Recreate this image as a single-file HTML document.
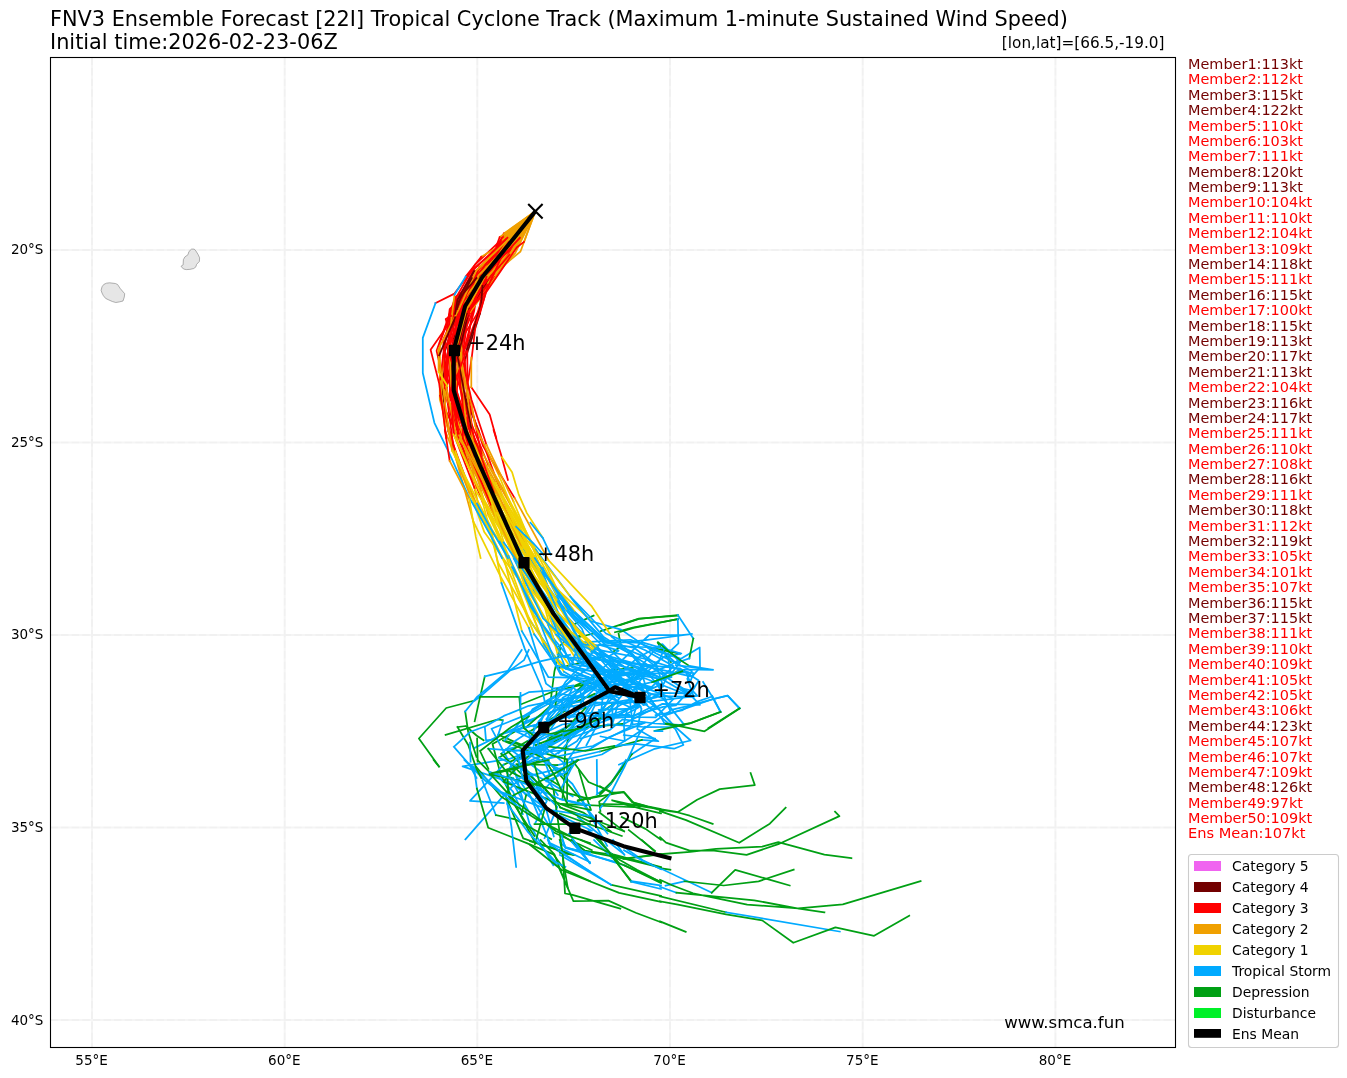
<!DOCTYPE html>
<html><head><meta charset="utf-8"><title>FNV3 Ensemble Forecast</title>
<style>html,body{margin:0;padding:0;background:#fff}svg{display:block}text{font-family:"DejaVu Sans","Liberation Sans",sans-serif;fill:#000}.m{font-size:14.45px}.t{fill:none;stroke-width:1.75;stroke-linejoin:round;stroke-linecap:square}</style></head><body>
<svg width="1347" height="1078" viewBox="0 0 1347 1078">
<rect width="1347" height="1078" fill="#fff"/>
<text x="50" y="26" font-size="20.83">FNV3 Ensemble Forecast [22I] Tropical Cyclone Track (Maximum 1-minute Sustained Wind Speed)</text>
<text x="50" y="48.7" font-size="20.83">Initial time:2026-02-23-06Z</text>
<text x="1164.5" y="47.5" font-size="15.28" text-anchor="end">[lon,lat]=[66.5,-19.0]</text>
<path d="M92.0 57.5V1047.5M284.7 57.5V1047.5M477.3 57.5V1047.5M670.0 57.5V1047.5M862.7 57.5V1047.5M1055.4 57.5V1047.5M50.5 249.9H1175.5M50.5 442.4H1175.5M50.5 635.0H1175.5M50.5 827.5H1175.5M50.5 1020.0H1175.5" stroke="#808080" stroke-opacity="0.08" stroke-width="2" fill="none"/>
<path d="M92.0 57.5V1047.5M284.7 57.5V1047.5M477.3 57.5V1047.5M670.0 57.5V1047.5M862.7 57.5V1047.5M1055.4 57.5V1047.5M50.5 249.9H1175.5M50.5 442.4H1175.5M50.5 635.0H1175.5M50.5 827.5H1175.5M50.5 1020.0H1175.5" stroke="#808080" stroke-opacity="0.03" stroke-width="2" stroke-dasharray="7.4 3.2" fill="none"/>
<clipPath id="c"><rect x="50.5" y="57.5" width="1125.0" height="990.0"/></clipPath>
<g clip-path="url(#c)">
<path d="M101.1 290.3L102.0 286.8L103.8 284.4L106.5 283.2L109.6 282.8L115.4 283.5L117.6 284.5L120.3 288.6L124.7 293.7L124.3 297.0L123.0 301.0L119.4 301.9L115.8 302.5L112.3 301.5L108.7 299.9L105.6 298.4L103.4 295.7L102.0 293.0ZM191.6 249.1L194.2 249.1L196.0 251.1L198.2 254.7L199.6 257.8L199.4 261.4L196.5 264.5L196.0 266.7L193.8 268.5L189.8 269.4L186.2 269.6L183.5 269.0L181.0 266.3L183.1 264.9L183.4 259.6L184.9 256.9L188.0 254.7L188.9 251.6Z" fill="#e6e6e6" stroke="#808080" stroke-width="0.6" stroke-linejoin="round"/>
<path class="t" stroke="#00a014" d="M572.3 625.1L593.6 615.6M579.4 637.0L593.6 633.5M559.2 646.5L565.1 640.6L579.4 635.8M549.7 708.0L554.4 671.5L560.4 647.7M559.2 667.9L584.1 662.0L603.1 657.2M572.3 686.9L610.3 670.3L632.8 667.9M657.8 643.0L670.9 662.0M650.7 647.7L680.0 653.6M654.2 682.2L680.0 670.3M520.0 704.7L555.6 690.5L596.0 682.2M600.8 631.1L638.8 618.6L678.0 615.6M615.0 632.3L632.8 627.5L678.0 619.2M613.8 651.3L621.0 646.5L618.6 633.5"/>
<path class="t" stroke="#f0a000" d="M535.4 211.3L511.3 240.8"/>
<path class="t" stroke="#ff0000" d="M511.3 240.8L477.1 276.3L453.4 307.6L448.8 356.9L452.7 399.1L465.4 447.7L496.5 520.9"/>
<path class="t" stroke="#f0d200" d="M496.5 520.9L524.5 576.9L567.0 641.4"/>
<path class="t" stroke="#00aaff" d="M567.0 641.4L587.4 654.7L598.6 683.1L618.5 702.1L612.5 724.0L612.4 704.8"/>
<path class="t" stroke="#00a014" d="M612.4 704.8L577.9 728.8L552.9 742.2"/>
<path class="t" stroke="#00aaff" d="M552.9 742.2L510.4 758.6L462.6 766.4L509.5 782.2L548.6 810.2L591.8 830.7"/>
<path class="t" stroke="#f0a000" d="M535.4 211.3L505.4 236.1"/>
<path class="t" stroke="#ff0000" d="M505.4 236.1L475.0 264.6L456.0 297.7L449.7 342.6"/>
<path class="t" stroke="#730000" d="M449.7 342.6L441.6 385.8L448.5 431.6"/>
<path class="t" stroke="#ff0000" d="M448.5 431.6L476.0 507.2"/>
<path class="t" stroke="#f0d200" d="M476.0 507.2L504.8 561.8L521.9 631.1"/>
<path class="t" stroke="#00aaff" d="M521.9 631.1L548.4 677.2L579.1 677.9L592.7 679.9L588.4 676.9L574.9 674.8L560.8 692.2L532.5 709.2L522.1 727.6"/>
<path class="t" stroke="#00a014" d="M522.1 727.6L492.5 744.1L500.7 774.4L519.2 812.5L534.7 842.0"/>
<path class="t" stroke="#f0a000" d="M535.4 211.3L505.5 248.0"/>
<path class="t" stroke="#ff0000" d="M505.5 248.0L482.2 286.4L460.0 303.8L450.9 356.6L452.7 401.4L475.7 452.8"/>
<path class="t" stroke="#f0a000" d="M475.7 452.8L508.2 531.0"/>
<path class="t" stroke="#f0d200" d="M508.2 531.0L534.0 586.7L560.8 634.8L577.7 661.9"/>
<path class="t" stroke="#00aaff" d="M577.7 661.9L610.5 678.4L663.1 698.4L684.5 725.1L654.8 723.5L622.6 719.3L609.9 729.8L580.8 738.5"/>
<path class="t" stroke="#f0a000" d="M535.4 211.3L505.2 244.8L482.5 277.4"/>
<path class="t" stroke="#ff0000" d="M482.5 277.4L464.7 308.9"/>
<path class="t" stroke="#730000" d="M464.7 308.9L458.4 353.7L460.5 385.5L478.7 430.8"/>
<path class="t" stroke="#ff0000" d="M478.7 430.8L505.9 506.3"/>
<path class="t" stroke="#f0a000" d="M505.9 506.3L530.3 553.3"/>
<path class="t" stroke="#f0d200" d="M530.3 553.3L575.4 612.4"/>
<path class="t" stroke="#00aaff" d="M575.4 612.4L605.9 641.0L630.5 653.7L646.4 672.7L616.4 675.1L602.9 694.2L600.7 718.3L586.4 745.2"/>
<path class="t" stroke="#f0a000" d="M535.4 211.3L507.3 243.5L485.0 287.2"/>
<path class="t" stroke="#ff0000" d="M485.0 287.2L472.3 309.0L449.9 355.9L458.0 397.3L468.5 451.4"/>
<path class="t" stroke="#f0d200" d="M468.5 451.4L499.5 518.5L544.5 584.5"/>
<path class="t" stroke="#00aaff" d="M544.5 584.5L581.9 628.7L591.0 652.0L645.6 669.4L686.6 693.4L675.9 705.3L663.2 706.8L633.7 715.7L595.7 716.1L576.9 741.3L548.6 758.5"/>
<path class="t" stroke="#f0a000" d="M535.4 211.3L503.8 235.3L480.7 274.6L456.2 298.9"/>
<path class="t" stroke="#ff0000" d="M456.2 298.9L439.9 342.4"/>
<path class="t" stroke="#f0a000" d="M439.9 342.4L439.8 399.2L451.5 442.2L473.3 521.3"/>
<path class="t" stroke="#f0d200" d="M473.3 521.3L500.5 576.4L528.9 627.8"/>
<path class="t" stroke="#00aaff" d="M528.9 627.8L546.0 683.6L552.8 688.5L573.7 685.4L567.2 698.8L566.5 700.0L579.7 713.3"/>
<path class="t" stroke="#00a014" d="M579.7 713.3L570.0 732.0L565.4 749.5L563.9 771.1"/>
<path class="t" stroke="#f0a000" d="M535.4 211.3L501.9 240.7"/>
<path class="t" stroke="#ff0000" d="M501.9 240.7L474.6 275.3L455.1 308.3L451.2 356.6L449.9 394.4L463.6 441.3L497.3 515.8"/>
<path class="t" stroke="#f0d200" d="M497.3 515.8L529.1 577.6L564.5 620.2L597.5 647.2"/>
<path class="t" stroke="#00aaff" d="M597.5 647.2L622.4 671.6L644.4 691.9L639.8 682.7L632.5 691.9L601.8 699.2L560.3 694.0L524.4 715.6L491.5 728.7L515.6 774.0L529.6 824.1L553.3 865.2"/>
<path class="t" stroke="#f0a000" d="M535.4 211.3L513.1 242.0"/>
<path class="t" stroke="#ff0000" d="M513.1 242.0L480.6 282.5L470.3 295.5"/>
<path class="t" stroke="#730000" d="M470.3 295.5L453.5 340.2"/>
<path class="t" stroke="#ff0000" d="M453.5 340.2L451.6 380.3L470.3 428.5"/>
<path class="t" stroke="#f0a000" d="M470.3 428.5L494.9 488.7L523.1 543.2"/>
<path class="t" stroke="#f0d200" d="M523.1 543.2L549.4 597.1"/>
<path class="t" stroke="#00aaff" d="M549.4 597.1L573.8 642.7L630.5 639.8L680.3 658.6L654.2 650.5L626.7 684.0L593.3 717.3L557.4 747.1L512.2 769.8L536.7 805.7L553.2 832.2"/>
<path class="t" stroke="#00a014" d="M553.2 832.2L591.8 850.2"/>
<path class="t" stroke="#f0a000" d="M535.4 211.3L513.8 246.6L488.7 281.7"/>
<path class="t" stroke="#ff0000" d="M488.7 281.7L479.9 313.7"/>
<path class="t" stroke="#730000" d="M479.9 313.7L464.9 359.9"/>
<path class="t" stroke="#ff0000" d="M464.9 359.9L463.0 403.1L488.3 465.2"/>
<path class="t" stroke="#f0a000" d="M488.3 465.2L515.4 513.9"/>
<path class="t" stroke="#f0d200" d="M515.4 513.9L555.0 587.1L591.9 621.5"/>
<path class="t" stroke="#00aaff" d="M591.9 621.5L621.1 629.6L655.7 653.2L692.0 671.0L687.3 678.8L693.8 696.9L660.8 696.1L624.2 703.7L593.6 702.3L558.2 709.0"/>
<path class="t" stroke="#f0a000" d="M535.4 211.3L507.7 237.8"/>
<path class="t" stroke="#ff0000" d="M507.7 237.8L476.7 281.1L455.5 296.9L436.6 350.7L446.7 395.4L453.6 448.3"/>
<path class="t" stroke="#f0a000" d="M453.6 448.3L478.7 509.6"/>
<path class="t" stroke="#f0d200" d="M478.7 509.6L510.4 560.8L544.8 627.5"/>
<path class="t" stroke="#00aaff" d="M544.8 627.5L574.3 664.4L626.1 673.1L665.9 679.6L656.2 697.5L648.6 698.9L614.8 716.6L579.0 721.1L534.7 742.6L506.0 749.5"/>
<path class="t" stroke="#00a014" d="M506.0 749.5L530.4 773.8"/>
<path class="t" stroke="#00aaff" d="M530.4 773.8L549.8 800.6"/>
<path class="t" stroke="#f0a000" d="M535.4 211.3L515.0 244.4"/>
<path class="t" stroke="#ff0000" d="M515.0 244.4L482.5 290.3L468.5 313.8L461.4 362.8L451.4 398.2L474.9 456.8"/>
<path class="t" stroke="#f0a000" d="M474.9 456.8L501.1 495.7"/>
<path class="t" stroke="#f0d200" d="M501.1 495.7L536.1 560.3"/>
<path class="t" stroke="#00aaff" d="M536.1 560.3L576.9 619.5L604.7 641.8L643.9 642.9L681.3 653.5L667.8 656.6L671.5 677.2L642.7 684.3L602.9 695.4L565.0 699.0L533.4 719.6L507.3 731.8L474.4 748.0"/>
<path class="t" stroke="#f0a000" d="M535.4 211.3L505.1 245.8L488.5 281.2L467.6 307.8"/>
<path class="t" stroke="#ff0000" d="M467.6 307.8L462.2 346.4L455.7 392.3"/>
<path class="t" stroke="#f0a000" d="M455.7 392.3L470.6 445.7"/>
<path class="t" stroke="#f0d200" d="M470.6 445.7L501.0 510.5L541.2 567.9"/>
<path class="t" stroke="#00aaff" d="M541.2 567.9L558.9 616.8L586.4 655.5L614.2 683.2L638.5 707.4L625.4 714.5L615.0 717.1L574.7 732.3L536.4 753.7L519.4 759.4"/>
<path class="t" stroke="#f0a000" d="M535.4 211.3L507.9 246.2L479.9 281.9"/>
<path class="t" stroke="#ff0000" d="M479.9 281.9L464.1 305.9L459.7 357.0L460.1 387.0"/>
<path class="t" stroke="#f0a000" d="M460.1 387.0L468.5 438.4L500.8 512.9"/>
<path class="t" stroke="#f0d200" d="M500.8 512.9L534.0 560.0L563.1 626.9L591.8 651.4"/>
<path class="t" stroke="#00aaff" d="M591.8 651.4L641.3 665.4L692.0 676.6L700.0 667.5L699.7 647.5L670.5 665.1L632.3 679.6L594.5 694.0"/>
<path class="t" stroke="#00a014" d="M594.5 694.0L558.7 709.4"/>
<path class="t" stroke="#00aaff" d="M558.7 709.4L522.2 722.8L540.4 754.0"/>
<path class="t" stroke="#f0a000" d="M535.4 211.3L515.2 253.2L487.1 284.6"/>
<path class="t" stroke="#ff0000" d="M487.1 284.6L476.9 314.5L471.7 357.8L466.1 393.8L482.9 445.8L514.7 498.1"/>
<path class="t" stroke="#f0a000" d="M514.7 498.1L548.6 560.3"/>
<path class="t" stroke="#f0d200" d="M548.6 560.3L591.3 605.8L611.7 636.6"/>
<path class="t" stroke="#00aaff" d="M611.7 636.6L633.2 654.7L656.7 684.0L663.2 694.1L651.9 694.0L618.8 715.0L587.2 720.7L556.1 736.7L537.1 760.0L495.2 773.7L513.0 791.6L522.8 814.1"/>
<path class="t" stroke="#f0a000" d="M535.4 211.3L510.8 246.8L479.4 284.4"/>
<path class="t" stroke="#ff0000" d="M479.4 284.4L469.0 311.2L459.5 353.1L456.8 391.3L477.5 455.7"/>
<path class="t" stroke="#f0a000" d="M477.5 455.7L502.5 497.1"/>
<path class="t" stroke="#f0d200" d="M502.5 497.1L545.3 564.1L567.1 610.5"/>
<path class="t" stroke="#00aaff" d="M567.1 610.5L601.1 644.5L645.4 640.2L692.0 634.0L681.2 635.1L649.3 635.0L611.2 670.2L584.4 713.7L539.1 748.4"/>
<path class="t" stroke="#00a014" d="M539.1 748.4L503.5 764.8"/>
<path class="t" stroke="#00aaff" d="M503.5 764.8L470.0 800.8L503.7 803.0"/>
<path class="t" stroke="#f0a000" d="M535.4 211.3L506.1 246.0"/>
<path class="t" stroke="#ff0000" d="M506.1 246.0L473.6 272.4L459.5 306.6"/>
<path class="t" stroke="#730000" d="M459.5 306.6L442.9 357.3"/>
<path class="t" stroke="#ff0000" d="M442.9 357.3L447.5 402.0L468.3 447.0"/>
<path class="t" stroke="#f0a000" d="M468.3 447.0L488.5 515.7"/>
<path class="t" stroke="#f0d200" d="M488.5 515.7L522.8 587.9L544.2 646.1L568.1 669.0"/>
<path class="t" stroke="#00aaff" d="M568.1 669.0L609.2 672.1L638.8 673.3L612.5 676.9L584.8 690.4L579.0 709.4L569.1 718.3"/>
<path class="t" stroke="#f0a000" d="M535.4 211.3L509.4 239.1L483.2 274.3"/>
<path class="t" stroke="#ff0000" d="M483.2 274.3L449.7 309.2L443.4 357.2"/>
<path class="t" stroke="#f0a000" d="M443.4 357.2L440.0 395.5"/>
<path class="t" stroke="#ff0000" d="M440.0 395.5L455.3 451.2"/>
<path class="t" stroke="#f0d200" d="M455.3 451.2L484.3 532.1L517.7 578.3L543.9 643.5"/>
<path class="t" stroke="#00aaff" d="M543.9 643.5L560.7 674.6L600.5 685.0L636.5 684.1L637.5 702.8L630.2 727.1L621.7 731.3L592.8 746.0L565.3 750.5L547.3 751.4L524.0 745.7"/>
<path class="t" stroke="#00a014" d="M524.0 745.7L502.8 740.4L546.2 758.9L582.8 801.7"/>
<path class="t" stroke="#00aaff" d="M582.8 801.7L607.2 845.9"/>
<path class="t" stroke="#f0a000" d="M535.4 211.3L513.4 241.4"/>
<path class="t" stroke="#ff0000" d="M513.4 241.4L485.3 279.7L471.2 308.3"/>
<path class="t" stroke="#730000" d="M471.2 308.3L455.2 348.7"/>
<path class="t" stroke="#ff0000" d="M455.2 348.7L462.2 400.3L470.2 449.6"/>
<path class="t" stroke="#f0a000" d="M470.2 449.6L502.7 513.1"/>
<path class="t" stroke="#f0d200" d="M502.7 513.1L542.7 567.9"/>
<path class="t" stroke="#00aaff" d="M542.7 567.9L567.3 616.7L595.7 648.5L639.0 676.0L692.0 696.7L680.7 688.0L692.7 690.8L697.4 695.9L649.3 701.6L597.7 702.9L544.0 722.5L498.5 734.9"/>
<path class="t" stroke="#00a014" d="M498.5 734.9L535.5 750.6"/>
<path class="t" stroke="#00aaff" d="M535.5 750.6L572.5 784.0L595.1 821.4"/>
<path class="t" stroke="#f0a000" d="M535.4 211.3L516.5 245.5L486.3 281.8"/>
<path class="t" stroke="#ff0000" d="M486.3 281.8L478.9 311.3L463.9 351.8L467.7 394.4L473.4 436.9"/>
<path class="t" stroke="#f0a000" d="M473.4 436.9L508.2 498.1"/>
<path class="t" stroke="#f0d200" d="M508.2 498.1L535.5 549.5"/>
<path class="t" stroke="#00aaff" d="M535.5 549.5L574.3 601.9L603.6 637.1L651.5 667.3L690.8 693.7L662.4 692.9L627.0 709.0L598.1 719.8L559.7 735.5L523.2 756.1L531.5 789.1L544.4 810.0"/>
<path class="t" stroke="#00a014" d="M544.4 810.0L534.9 844.2"/>
<path class="t" stroke="#f0a000" d="M535.4 211.3L515.4 239.1L482.4 279.4"/>
<path class="t" stroke="#ff0000" d="M482.4 279.4L473.6 309.5L451.2 363.3L449.5 396.1L470.3 458.3L497.8 513.8"/>
<path class="t" stroke="#f0d200" d="M497.8 513.8L525.9 587.9L559.8 640.9L582.9 658.0"/>
<path class="t" stroke="#00aaff" d="M582.9 658.0L602.8 670.7L619.9 678.9L613.1 679.5L595.7 671.3L585.7 685.3L562.5 697.8L560.5 717.1"/>
<path class="t" stroke="#00a014" d="M560.5 717.1L533.1 740.2"/>
<path class="t" stroke="#00aaff" d="M533.1 740.2L528.3 744.9"/>
<path class="t" stroke="#f0a000" d="M535.4 211.3L503.6 237.5"/>
<path class="t" stroke="#ff0000" d="M503.6 237.5L473.8 278.9L453.9 311.2L446.1 363.2L444.7 408.1L468.9 460.9"/>
<path class="t" stroke="#f0a000" d="M468.9 460.9L497.6 520.8"/>
<path class="t" stroke="#f0d200" d="M497.6 520.8L533.9 590.1"/>
<path class="t" stroke="#00aaff" d="M533.9 590.1L574.0 651.0L584.7 656.7L596.0 672.3L602.3 680.5L596.3 685.7L580.4 696.1L549.3 703.3L523.9 717.3L504.7 740.6"/>
<path class="t" stroke="#f0a000" d="M535.4 211.3L509.8 248.3"/>
<path class="t" stroke="#ff0000" d="M509.8 248.3L474.7 281.0L461.1 307.8"/>
<path class="t" stroke="#f0a000" d="M461.1 307.8L454.2 356.2L470.2 399.9"/>
<path class="t" stroke="#ff0000" d="M470.2 399.9L482.2 457.4"/>
<path class="t" stroke="#f0a000" d="M482.2 457.4L508.6 529.4"/>
<path class="t" stroke="#f0d200" d="M508.6 529.4L534.4 578.4"/>
<path class="t" stroke="#00aaff" d="M534.4 578.4L571.6 641.5L593.0 650.5L606.9 666.8L629.0 687.6L630.1 701.4L632.6 724.5L645.1 722.6L609.4 737.0L588.9 749.7L544.1 759.4"/>
<path class="t" stroke="#00a014" d="M544.1 759.4L519.1 767.8L489.7 774.7L512.7 777.9"/>
<path class="t" stroke="#00aaff" d="M512.7 777.9L526.1 795.2"/>
<path class="t" stroke="#00a014" d="M526.1 795.2L521.6 813.5"/>
<path class="t" stroke="#f0a000" d="M535.4 211.3L513.5 245.4"/>
<path class="t" stroke="#ff0000" d="M513.5 245.4L481.9 273.0"/>
<path class="t" stroke="#730000" d="M481.9 273.0L466.7 309.9L448.6 355.0"/>
<path class="t" stroke="#ff0000" d="M448.6 355.0L453.5 385.6L460.6 437.3"/>
<path class="t" stroke="#f0a000" d="M460.6 437.3L489.4 502.3"/>
<path class="t" stroke="#f0d200" d="M489.4 502.3L514.1 549.9L559.9 608.6L589.9 643.3"/>
<path class="t" stroke="#00aaff" d="M589.9 643.3L625.8 668.2L656.5 678.1L670.3 711.0L632.2 736.6L601.8 754.5L557.3 765.2"/>
<path class="t" stroke="#00a014" d="M557.3 765.2L516.2 764.1L532.3 777.6L554.6 798.4"/>
<path class="t" stroke="#f0a000" d="M535.4 211.3L511.9 244.8"/>
<path class="t" stroke="#ff0000" d="M511.9 244.8L483.7 275.0L479.4 310.1L454.3 350.7L449.9 388.3L477.0 444.3L493.8 502.6"/>
<path class="t" stroke="#f0d200" d="M493.8 502.6L511.4 552.6L548.2 625.0"/>
<path class="t" stroke="#00aaff" d="M548.2 625.0L566.0 669.0L571.8 664.1L576.0 652.1L589.4 667.3L569.0 682.6L556.8 689.4"/>
<path class="t" stroke="#00a014" d="M556.8 689.4L555.3 707.5"/>
<path class="t" stroke="#00aaff" d="M555.3 707.5L546.3 719.2"/>
<path class="t" stroke="#f0a000" d="M535.4 211.3L520.0 241.6L485.2 279.1"/>
<path class="t" stroke="#ff0000" d="M485.2 279.1L467.5 305.5L455.9 340.1L454.1 392.0"/>
<path class="t" stroke="#f0a000" d="M454.1 392.0L466.6 441.0L476.3 487.4"/>
<path class="t" stroke="#f0d200" d="M476.3 487.4L516.6 552.5L544.6 606.8L557.7 654.6"/>
<path class="t" stroke="#00aaff" d="M557.7 654.6L590.8 664.5L607.4 675.7L614.8 667.9L607.8 663.8L583.0 684.7"/>
<path class="t" stroke="#00a014" d="M583.0 684.7L577.1 691.5"/>
<path class="t" stroke="#00aaff" d="M577.1 691.5L564.9 710.9"/>
<path class="t" stroke="#00a014" d="M564.9 710.9L529.9 731.3"/>
<path class="t" stroke="#00aaff" d="M529.9 731.3L515.8 740.5L501.3 753.8"/>
<path class="t" stroke="#00a014" d="M501.3 753.8L533.9 786.4"/>
<path class="t" stroke="#f0a000" d="M535.4 211.3L507.0 239.5"/>
<path class="t" stroke="#ff0000" d="M507.0 239.5L490.8 265.4L457.1 295.9L444.9 340.4L440.1 381.3"/>
<path class="t" stroke="#f0a000" d="M440.1 381.3L445.2 430.7L469.8 494.6"/>
<path class="t" stroke="#f0d200" d="M469.8 494.6L501.8 544.9L529.1 619.2"/>
<path class="t" stroke="#00aaff" d="M529.1 619.2L560.3 664.4L592.8 680.6L606.3 696.5L606.3 690.2L589.3 682.1L561.4 704.5L536.0 734.0L532.3 752.3"/>
<path class="t" stroke="#00a014" d="M532.3 752.3L503.4 781.6L548.4 799.4L583.9 812.9L611.0 831.5"/>
<path class="t" stroke="#f0a000" d="M535.4 211.3L502.7 242.2L476.0 275.9"/>
<path class="t" stroke="#ff0000" d="M476.0 275.9L456.0 306.9L456.0 361.0L444.6 392.2"/>
<path class="t" stroke="#f0a000" d="M444.6 392.2L464.8 447.5L479.6 509.8"/>
<path class="t" stroke="#f0d200" d="M479.6 509.8L512.1 578.8L534.2 634.3"/>
<path class="t" stroke="#00aaff" d="M534.2 634.3L561.9 673.7L589.8 686.2L618.9 698.0L612.5 695.0L597.1 698.7L584.6 716.2L558.0 738.0"/>
<path class="t" stroke="#f0a000" d="M535.4 211.3L518.9 241.6L494.7 277.1"/>
<path class="t" stroke="#ff0000" d="M494.7 277.1L473.5 305.2L467.2 344.0L467.5 381.4"/>
<path class="t" stroke="#f0a000" d="M467.5 381.4L475.3 426.4L499.2 475.9"/>
<path class="t" stroke="#f0d200" d="M499.2 475.9L526.5 543.2L557.6 595.6"/>
<path class="t" stroke="#00aaff" d="M557.6 595.6L594.7 634.3L623.5 662.6L652.1 674.5L642.7 667.5L622.8 685.4L595.3 677.2L580.1 691.1L585.5 708.1"/>
<path class="t" stroke="#00a014" d="M585.5 708.1L564.9 729.5"/>
<path class="t" stroke="#00aaff" d="M564.9 729.5L563.2 729.7"/>
<path class="t" stroke="#00a014" d="M563.2 729.7L548.2 738.7"/>
<path class="t" stroke="#00aaff" d="M548.2 738.7L538.9 754.2"/>
<path class="t" stroke="#f0a000" d="M535.4 211.3L510.9 241.1"/>
<path class="t" stroke="#ff0000" d="M510.9 241.1L485.9 278.9L469.6 311.0L459.5 350.9L453.5 396.5L475.8 459.0"/>
<path class="t" stroke="#f0a000" d="M475.8 459.0L495.1 517.3"/>
<path class="t" stroke="#f0d200" d="M495.1 517.3L533.2 574.2L556.0 634.4"/>
<path class="t" stroke="#00aaff" d="M556.0 634.4L583.5 657.6L619.2 662.4L679.8 668.3L698.7 680.6L690.1 694.7L700.0 704.9L662.4 703.9L624.0 723.8"/>
<path class="t" stroke="#00a014" d="M624.0 723.8L586.2 727.3L545.5 734.6"/>
<path class="t" stroke="#f0a000" d="M535.4 211.3L514.4 247.8"/>
<path class="t" stroke="#ff0000" d="M514.4 247.8L491.0 275.1"/>
<path class="t" stroke="#730000" d="M491.0 275.1L469.2 309.4L460.8 343.4"/>
<path class="t" stroke="#ff0000" d="M460.8 343.4L460.0 373.9L468.5 422.9L481.8 477.7"/>
<path class="t" stroke="#f0d200" d="M481.8 477.7L506.1 523.1"/>
<path class="t" stroke="#00aaff" d="M506.1 523.1L533.5 578.6L574.4 636.7L627.9 675.2L672.0 723.9L671.5 726.8L643.9 727.0L608.0 724.4L570.2 738.3L542.3 734.0L513.4 730.1L539.4 742.3L564.0 763.0"/>
<path class="t" stroke="#f0a000" d="M535.4 211.3L501.0 241.0"/>
<path class="t" stroke="#ff0000" d="M501.0 241.0L479.2 274.0L461.2 314.1"/>
<path class="t" stroke="#730000" d="M461.2 314.1L460.6 343.7"/>
<path class="t" stroke="#ff0000" d="M460.6 343.7L463.0 391.0L476.0 446.9"/>
<path class="t" stroke="#f0a000" d="M476.0 446.9L499.1 498.0"/>
<path class="t" stroke="#f0d200" d="M499.1 498.0L523.8 549.5"/>
<path class="t" stroke="#00aaff" d="M523.8 549.5L560.7 605.6L584.4 652.3L613.2 677.7L647.0 704.4L643.4 705.2L629.0 689.3L615.8 670.4L592.4 683.8L575.2 700.9L548.6 713.3L544.4 735.0L520.5 751.0L564.6 771.4"/>
<path class="t" stroke="#f0a000" d="M535.4 211.3L502.0 245.5L479.5 266.7"/>
<path class="t" stroke="#ff0000" d="M479.5 266.7L462.5 310.4L448.7 348.0L445.6 390.0L460.8 443.7L483.0 503.4"/>
<path class="t" stroke="#f0d200" d="M483.0 503.4L498.1 562.7L532.7 624.4L564.0 671.8"/>
<path class="t" stroke="#00aaff" d="M564.0 671.8L599.8 692.9L633.0 708.7L598.6 709.9L601.8 711.6L570.1 715.4L552.5 722.5"/>
<path class="t" stroke="#f0a000" d="M535.4 211.3L511.5 245.6"/>
<path class="t" stroke="#ff0000" d="M511.5 245.6L480.7 278.4L465.3 318.7L452.5 356.7L451.4 397.1L472.1 443.5"/>
<path class="t" stroke="#f0d200" d="M472.1 443.5L497.4 518.3L525.9 583.3L562.0 629.3L585.9 655.8"/>
<path class="t" stroke="#00aaff" d="M585.9 655.8L621.5 666.1L663.1 678.0L642.7 672.0L634.2 677.7L644.4 674.8L630.9 693.3"/>
<path class="t" stroke="#f0a000" d="M535.4 211.3L503.9 233.5"/>
<path class="t" stroke="#ff0000" d="M503.9 233.5L483.2 274.2"/>
<path class="t" stroke="#f0a000" d="M483.2 274.2L465.5 296.9"/>
<path class="t" stroke="#ff0000" d="M465.5 296.9L449.1 346.2L444.4 390.1"/>
<path class="t" stroke="#f0a000" d="M444.4 390.1L463.5 435.6L489.0 492.3"/>
<path class="t" stroke="#f0d200" d="M489.0 492.3L513.9 558.7"/>
<path class="t" stroke="#00aaff" d="M513.9 558.7L543.1 618.4L581.8 655.1L616.8 678.1L659.7 710.1L673.3 725.1L690.6 740.5L653.7 749.2L619.0 764.6"/>
<path class="t" stroke="#f0a000" d="M535.4 211.3L514.4 243.5L478.6 288.4"/>
<path class="t" stroke="#ff0000" d="M478.6 288.4L467.8 313.4L459.8 347.6"/>
<path class="t" stroke="#f0a000" d="M459.8 347.6L454.8 394.0"/>
<path class="t" stroke="#ff0000" d="M454.8 394.0L477.4 447.7"/>
<path class="t" stroke="#f0d200" d="M477.4 447.7L504.9 522.5L540.7 570.5"/>
<path class="t" stroke="#00aaff" d="M540.7 570.5L563.6 625.8"/>
<path class="t" stroke="#f0d200" d="M563.6 625.8L593.4 650.2"/>
<path class="t" stroke="#00aaff" d="M593.4 650.2L616.0 669.5L641.5 708.7L637.2 729.1L658.4 741.2L641.9 739.9"/>
<path class="t" stroke="#00a014" d="M641.9 739.9L599.9 751.5"/>
<path class="t" stroke="#00aaff" d="M599.9 751.5L567.2 759.3"/>
<path class="t" stroke="#00a014" d="M567.2 759.3L546.4 753.9"/>
<path class="t" stroke="#00aaff" d="M546.4 753.9L510.6 749.5L542.8 773.2L557.8 795.0"/>
<path class="t" stroke="#f0a000" d="M535.4 211.3L510.9 247.0"/>
<path class="t" stroke="#ff0000" d="M510.9 247.0L478.3 283.6L474.3 310.4L461.9 357.9L471.6 400.0L486.5 444.9"/>
<path class="t" stroke="#f0a000" d="M486.5 444.9L513.4 501.4"/>
<path class="t" stroke="#f0d200" d="M513.4 501.4L542.6 571.8"/>
<path class="t" stroke="#00aaff" d="M542.6 571.8L573.8 612.1L605.8 641.0L642.0 655.6L668.6 677.1L680.1 662.3L662.4 644.1L637.1 658.2L601.5 690.1"/>
<path class="t" stroke="#f0a000" d="M535.4 211.3L505.4 242.4"/>
<path class="t" stroke="#ff0000" d="M505.4 242.4L482.6 278.2L466.0 302.5L452.3 348.0"/>
<path class="t" stroke="#730000" d="M452.3 348.0L450.8 386.7"/>
<path class="t" stroke="#ff0000" d="M450.8 386.7L464.0 432.7L490.9 477.7"/>
<path class="t" stroke="#f0a000" d="M490.9 477.7L521.6 547.5"/>
<path class="t" stroke="#f0d200" d="M521.6 547.5L546.6 602.3"/>
<path class="t" stroke="#00aaff" d="M546.6 602.3L572.4 644.1L617.8 646.0L664.6 648.0L658.2 663.0L644.5 669.4L607.3 675.8L581.9 701.4L548.7 707.5"/>
<path class="t" stroke="#00a014" d="M548.7 707.5L525.4 727.8"/>
<path class="t" stroke="#f0a000" d="M535.4 211.3L511.0 246.3L478.0 275.0L470.1 311.1"/>
<path class="t" stroke="#ff0000" d="M470.1 311.1L448.3 354.0L453.4 396.4L459.2 439.1"/>
<path class="t" stroke="#f0a000" d="M459.2 439.1L502.3 497.1"/>
<path class="t" stroke="#f0d200" d="M502.3 497.1L531.6 564.1L556.8 611.4L594.8 649.2"/>
<path class="t" stroke="#00aaff" d="M594.8 649.2L643.3 658.5L688.3 672.3L642.0 673.8L630.6 684.8L607.1 713.4L582.0 738.6L559.9 772.6L535.8 798.6"/>
<path class="t" stroke="#f0a000" d="M535.4 211.3L514.1 247.5"/>
<path class="t" stroke="#ff0000" d="M514.1 247.5L473.7 277.5L462.7 303.2L444.6 349.7L449.7 380.7L471.1 443.1"/>
<path class="t" stroke="#f0a000" d="M471.1 443.1L493.3 508.5"/>
<path class="t" stroke="#f0d200" d="M493.3 508.5L526.3 570.3L556.0 621.1L580.9 659.6"/>
<path class="t" stroke="#00aaff" d="M580.9 659.6L610.1 655.5L618.6 650.7L599.2 644.6L585.0 661.6L565.5 681.9L548.4 710.9L538.8 721.0L525.1 748.1L507.6 770.4"/>
<path class="t" stroke="#00a014" d="M507.6 770.4L535.8 784.7"/>
<path class="t" stroke="#00aaff" d="M535.8 784.7L545.7 807.8L553.8 836.4"/>
<path class="t" stroke="#f0a000" d="M535.4 211.3L502.6 243.5"/>
<path class="t" stroke="#ff0000" d="M502.6 243.5L474.7 268.0L449.5 315.0L448.4 340.9L446.8 389.9L454.5 436.0L475.0 489.4"/>
<path class="t" stroke="#f0d200" d="M475.0 489.4L514.5 552.2L533.5 614.6L569.2 665.4"/>
<path class="t" stroke="#00aaff" d="M569.2 665.4L611.5 676.3L652.7 687.3L635.2 688.1L641.8 701.7L615.0 703.5L587.6 720.8L562.2 724.5L527.2 741.3"/>
<path class="t" stroke="#00a014" d="M527.2 741.3L498.9 757.6"/>
<path class="t" stroke="#00aaff" d="M498.9 757.6L546.1 780.7L572.7 796.4"/>
<path class="t" stroke="#f0a000" d="M535.4 211.3L514.9 246.6L494.0 279.2L469.1 313.6"/>
<path class="t" stroke="#ff0000" d="M469.1 313.6L460.1 353.1"/>
<path class="t" stroke="#f0a000" d="M460.1 353.1L466.8 390.3L473.6 446.3"/>
<path class="t" stroke="#f0d200" d="M473.6 446.3L503.4 500.6L534.8 558.1"/>
<path class="t" stroke="#00aaff" d="M534.8 558.1L569.4 611.6L604.7 641.8L634.3 648.0L656.2 664.2L663.2 686.5L659.5 685.1L632.8 697.6L611.8 710.2L587.2 728.9L561.7 734.9"/>
<path class="t" stroke="#00a014" d="M561.7 734.9L535.9 745.0"/>
<path class="t" stroke="#f0a000" d="M535.4 211.3L507.1 241.1L485.1 276.4L466.2 311.0"/>
<path class="t" stroke="#ff0000" d="M466.2 311.0L461.2 342.4"/>
<path class="t" stroke="#f0a000" d="M461.2 342.4L462.2 385.6L466.9 430.5L495.8 482.7"/>
<path class="t" stroke="#f0d200" d="M495.8 482.7L526.7 539.9L570.4 596.5"/>
<path class="t" stroke="#00aaff" d="M570.4 596.5L606.0 633.5L645.3 650.2L673.6 666.3L649.5 689.0L631.9 678.5L600.9 684.4L567.6 701.4L553.8 717.9L534.7 735.4L549.5 774.1"/>
<path class="t" stroke="#f0a000" d="M535.4 211.3L505.8 239.5"/>
<path class="t" stroke="#ff0000" d="M505.8 239.5L477.7 274.5L460.4 304.2L443.2 339.4L446.0 386.4"/>
<path class="t" stroke="#f0a000" d="M446.0 386.4L457.7 441.7L480.8 492.3"/>
<path class="t" stroke="#f0d200" d="M480.8 492.3L508.6 556.0"/>
<path class="t" stroke="#00aaff" d="M508.6 556.0L530.3 606.0L563.7 657.0L610.9 660.4L653.8 665.7L642.6 676.2L648.2 693.9L654.6 705.5L631.8 716.7L594.3 719.7L573.0 736.4L558.6 753.3"/>
<path class="t" stroke="#f0a000" d="M535.4 211.3L520.5 251.5L486.6 279.8"/>
<path class="t" stroke="#ff0000" d="M486.6 279.8L469.4 308.6"/>
<path class="t" stroke="#730000" d="M469.4 308.6L457.8 357.7L464.6 394.2L471.5 429.5"/>
<path class="t" stroke="#ff0000" d="M471.5 429.5L494.4 493.6"/>
<path class="t" stroke="#f0d200" d="M494.4 493.6L524.1 544.8L566.6 619.3L596.9 647.5"/>
<path class="t" stroke="#00aaff" d="M596.9 647.5L605.6 660.8L627.3 688.2L631.6 699.4L594.8 705.7L582.8 729.6L537.6 750.8L519.3 766.3L537.4 786.3L557.3 806.9L544.6 838.2"/>
<path class="t" stroke="#f0a000" d="M535.4 211.3L508.7 242.0"/>
<path class="t" stroke="#ff0000" d="M508.7 242.0L483.3 276.2"/>
<path class="t" stroke="#f0a000" d="M483.3 276.2L464.5 303.4"/>
<path class="t" stroke="#ff0000" d="M464.5 303.4L449.4 345.6"/>
<path class="t" stroke="#f0a000" d="M449.4 345.6L451.3 387.5"/>
<path class="t" stroke="#ff0000" d="M451.3 387.5L453.5 434.5"/>
<path class="t" stroke="#f0d200" d="M453.5 434.5L479.9 492.3L512.1 567.1"/>
<path class="t" stroke="#00aaff" d="M512.1 567.1L537.5 616.2L556.5 665.2L575.8 672.4L614.3 687.8L597.6 720.5L600.5 718.3"/>
<path class="t" stroke="#00a014" d="M600.5 718.3L580.5 726.7L563.5 736.3"/>
<path class="t" stroke="#00aaff" d="M563.5 736.3L533.2 748.5L515.8 750.9L488.3 748.7"/>
<path class="t" stroke="#00a014" d="M488.3 748.7L507.2 772.7"/>
<path class="t" stroke="#00aaff" d="M507.2 772.7L530.4 814.4"/>
<path class="t" stroke="#f0a000" d="M535.4 211.3L515.9 248.2L486.6 276.9"/>
<path class="t" stroke="#ff0000" d="M486.6 276.9L468.4 313.5L448.9 353.6L462.4 395.3L462.9 438.9L491.6 506.2"/>
<path class="t" stroke="#f0a000" d="M491.6 506.2L517.7 561.5"/>
<path class="t" stroke="#f0d200" d="M517.7 561.5L550.7 615.8"/>
<path class="t" stroke="#00aaff" d="M550.7 615.8L571.3 666.7L605.9 681.3L640.8 706.5L627.3 708.9L623.9 723.8L624.7 741.0L600.6 736.4"/>
<path class="t" stroke="#f0a000" d="M535.4 211.3L505.5 247.9"/>
<path class="t" stroke="#ff0000" d="M505.5 247.9L486.2 290.7L466.7 313.5"/>
<path class="t" stroke="#730000" d="M466.7 313.5L453.5 359.1"/>
<path class="t" stroke="#ff0000" d="M453.5 359.1L456.4 404.8L474.2 458.4"/>
<path class="t" stroke="#f0a000" d="M474.2 458.4L508.8 533.4"/>
<path class="t" stroke="#f0d200" d="M508.8 533.4L537.2 595.2L574.4 649.1"/>
<path class="t" stroke="#00aaff" d="M574.4 649.1L579.3 660.7L625.2 679.9L673.5 698.9L655.7 717.4L628.1 717.0L629.7 714.9L607.7 714.5L558.6 717.8L539.1 724.1L510.7 730.7"/>
<path class="t" stroke="#f0a000" d="M535.4 211.3L509.5 254.8"/>
<path class="t" stroke="#ff0000" d="M509.5 254.8L482.5 285.9"/>
<path class="t" stroke="#730000" d="M482.5 285.9L481.1 305.2L466.3 351.1"/>
<path class="t" stroke="#ff0000" d="M466.3 351.1L452.5 388.3L468.5 446.4"/>
<path class="t" stroke="#f0a000" d="M468.5 446.4L496.5 512.8"/>
<path class="t" stroke="#f0d200" d="M496.5 512.8L530.4 561.2L557.7 601.3"/>
<path class="t" stroke="#00aaff" d="M557.7 601.3L587.8 654.4L627.7 689.3L675.4 729.2L683.4 745.0L674.0 748.7L635.7 743.9L614.2 746.1"/>
<path class="t" stroke="#00a014" d="M614.2 746.1L585.3 751.0L547.6 746.4"/>
<path class="t" stroke="#00aaff" d="M547.6 746.4L517.7 757.0L522.8 778.5L546.9 800.9L535.4 822.9"/>
<path class="t" stroke="#f0a000" d="M535.4 211.3L509.7 237.7L476.1 270.9L458.8 309.3L438.2 349.6L445.4 406.2L452.1 450.7"/>
<path class="t" stroke="#f0d200" d="M452.1 450.7L490.8 526.7L501.5 583.1"/>
<path class="t" stroke="#00aaff" d="M501.5 583.1L524.8 648.9L542.0 688.5L545.0 702.8L567.5 711.5L576.9 691.2L573.4 687.6L559.8 696.0L545.2 712.3L540.8 721.5L533.5 726.8"/>
<path class="t" stroke="#f0a000" d="M535.4 211.3L510.9 242.9L478.5 275.4L468.0 303.6L454.2 356.5"/>
<path class="t" stroke="#ff0000" d="M454.2 356.5L451.1 396.6L459.1 435.3"/>
<path class="t" stroke="#f0a000" d="M459.1 435.3L488.3 491.2"/>
<path class="t" stroke="#f0d200" d="M488.3 491.2L503.8 542.5"/>
<path class="t" stroke="#00aaff" d="M503.8 542.5L548.5 606.2L574.9 646.2L603.0 660.8L637.6 679.2L643.9 678.3L634.7 669.6L622.4 669.8L595.1 683.1L574.0 694.6L550.8 729.0"/>
<path class="t" stroke="#00a014" d="M660.0 809.1L678.0 812.1L697.1 799.7L719.7 789.1L754.8 785.1L750.6 773.0M660.0 809.7L678.0 812.5L689.7 815.7L712.7 823.9M660.0 811.1L686.1 820.1L739.2 842.8L769.8 823.7L785.7 807.7M660.0 837.2L666.0 842.6L689.7 850.6L714.1 850.6L746.6 854.8L778.3 844.2L839.4 816.1L835.0 811.7M660.0 854.2L690.1 851.8L716.1 848.8L762.2 846.6L778.3 842.2L824.4 854.6L851.4 858.2M660.0 868.2L670.4 869.8"/>
<path class="t" stroke="#00aaff" d="M660.0 868.2L711.7 892.7"/>
<path class="t" stroke="#00a014" d="M711.7 892.7L735.2 869.8L789.7 885.5"/>
<path class="t" stroke="#00aaff" d="M665.6 885.7L684.5 881.3"/>
<path class="t" stroke="#00a014" d="M684.5 881.3L723.7 885.5L758.6 881.3L793.7 869.6"/>
<path class="t" stroke="#00aaff" d="M660.0 886.7L676.4 892.7"/>
<path class="t" stroke="#00a014" d="M676.4 892.7L754.2 900.3L797.3 908.3L824.4 912.3M660.0 879.9L672.0 885.3L693.1 893.3L747.2 904.7L798.3 908.3L842.8 904.3L920.6 881.1M660.0 896.3L726.1 912.3"/>
<path class="t" stroke="#00aaff" d="M726.1 912.3L839.8 931.6"/>
<path class="t" stroke="#00a014" d="M660.0 901.3L678.0 904.7L726.1 914.3L762.2 920.4L793.3 942.8L835.4 927.4L874.1 935.8L909.2 915.7M660.0 921.4L685.7 931.8"/>
<path class="t" stroke="#00aaff" d="M535.9 840.0L559.1 867.9"/>
<path class="t" stroke="#00a014" d="M559.1 867.9L573.4 901.2L608.4 900.6L635.7 912.7L661.0 922.3M530.0 844.8L562.1 870.3L619.1 892.9L661.0 901.8M559.7 840.0L562.7 853.1L565.0 893.5L571.6 894.6L620.3 908.7M540.7 840.0L554.4 854.3L564.4 880.4"/>
<path class="t" stroke="#00aaff" d="M547.8 840.0L550.2 845.9L611.4 884.9"/>
<path class="t" stroke="#00a014" d="M611.4 884.9L661.0 895.9"/>
<path class="t" stroke="#00aaff" d="M562.1 840.0L565.6 847.1L589.4 854.3L615.5 862.6L625.0 865.5"/>
<path class="t" stroke="#00a014" d="M625.0 865.5L661.0 883.0"/>
<path class="t" stroke="#00aaff" d="M571.6 840.0L589.4 862.6"/>
<path class="t" stroke="#00a014" d="M530.0 841.2L573.9 854.8M571.6 840.0L584.6 850.7L613.1 854.8L623.8 859.0L660.7 854.3L661.0 854.2M600.1 840.0L631.0 881.6"/>
<path class="t" stroke="#00aaff" d="M631.0 881.6L661.0 889.0M594.1 840.0L612.0 857.8M613.1 840.0L624.4 854.8M627.4 849.5L642.8 860.2L661.0 869.0"/>
<path class="t" stroke="#00a014" d="M581.1 840.0L613.1 854.3L661.0 867.1M612.0 855.4L636.9 869.7L661.0 882.3M641.7 840.0L654.7 851.3M627.7 760.0L611.1 783.8L599.2 795.6L577.8 801.0"/>
<path class="t" stroke="#00aaff" d="M625.9 760.0L609.9 784.9L596.8 794.4M596.8 760.0L597.1 793.3"/>
<path class="t" stroke="#00a014" d="M571.9 760.0L588.5 782.0L613.5 792.7L624.1 792.1L633.6 802.8L659.8 809.9L661.0 810.0M577.8 800.4L623.0 792.1M561.2 803.9L639.6 807.5M612.3 800.4L633.6 805.1L661.0 809.5M612.3 800.4L631.3 806.3L661.0 813.3M621.8 817.0L645.5 828.9L661.0 839.8M624.1 858.6L660.0 854.2L661.0 854.1M628.9 830.1L655.0 850.9M599.2 812.3L624.1 831.3"/>
<path class="t" stroke="#00aaff" d="M577.8 817.0L624.1 854.4M588.5 830.1L611.1 853.8"/>
<path class="t" stroke="#00a014" d="M560.0 833.6L586.1 851.5L624.1 858.6L661.0 867.6"/>
<path class="t" stroke="#00aaff" d="M560.0 842.0L565.9 847.9L586.1 853.8L615.8 862.2M624.1 850.3L643.1 861.0L661.0 869.1"/>
<path class="t" stroke="#00a014" d="M609.9 853.8L631.3 881.2"/>
<path class="t" stroke="#00aaff" d="M631.3 881.2L661.0 885.4"/>
<path class="t" stroke="#00a014" d="M560.0 852.7L574.3 855.0"/>
<path class="t" stroke="#00aaff" d="M571.9 842.0L589.1 862.2M560.0 855.0L611.1 884.7"/>
<path class="t" stroke="#00a014" d="M595.6 837.2L619.4 863.3L661.0 882.0M560.0 807.5L583.8 815.8L624.1 831.3M560.0 813.5L595.6 826.5L621.8 836.0M567.1 760.0L567.1 805.1M562.4 799.2L564.8 774.3L577.8 760.0"/>
<path class="t" stroke="#00aaff" d="M560.0 790.9L570.7 769.5L576.6 760.0M560.0 799.2L583.8 805.1L595.6 819.4L607.5 833.6"/>
<path class="t" stroke="#00a014" d="M579.0 770.7L587.3 799.2L590.9 809.9M600.4 811.1L599.2 801.6L612.3 792.1"/>
<path class="t" stroke="#00aaff" d="M571.4 765.9L520.3 777.8L503.6 795.6L465.4 839.3M473.9 767.1L476.9 788.5"/>
<path class="t" stroke="#00a014" d="M476.9 788.5L488.2 827.7L526.8 843.1L553.5 854.4L564.2 869.3L590.0 881.2"/>
<path class="t" stroke="#00aaff" d="M482.3 780.2L495.9 815.2"/>
<path class="t" stroke="#00a014" d="M495.9 815.2L515.5 819.4L551.2 839.0"/>
<path class="t" stroke="#00aaff" d="M506.0 795.6L511.4 826.5L516.1 866.9"/>
<path class="t" stroke="#00a014" d="M506.0 796.8L523.2 838.4L544.0 845.5L574.3 855.0"/>
<path class="t" stroke="#00aaff" d="M507.2 803.9L527.4 831.3L555.9 862.2L565.4 866.9M528.6 792.1L550.0 843.1L590.0 862.2"/>
<path class="t" stroke="#00a014" d="M534.5 824.1L590.0 824.1M553.5 789.7L559.5 831.3L564.2 866.9L567.8 888.0"/>
<path class="t" stroke="#00aaff" d="M560.7 832.5L565.4 847.9L590.0 852.7"/>
<path class="t" stroke="#00a014" d="M438.9 766.5L433.6 760.0"/>
<path class="t" stroke="#00aaff" d="M569.0 833.6L590.0 863.3M548.8 843.1L590.0 871.7"/>
<path class="t" stroke="#00a014" d="M489.4 773.1L515.5 801.6L555.9 831.3L590.0 843.1M476.3 767.1L501.3 796.8L536.9 819.4L572.5 837.2M477.5 760.0L491.8 774.3L536.9 784.9L590.0 799.2M507.2 769.5L508.4 795.6L534.5 836.0"/>
<path class="t" stroke="#00aaff" d="M464.4 760.0L484.6 780.2L516.7 805.1M469.2 763.6L501.3 792.1L548.8 809.9L590.0 815.8M489.4 771.9L522.7 782.6L560.7 799.2L590.0 805.1"/>
<path class="t" stroke="#00a014" d="M534.5 764.8L539.3 781.4L560.7 807.5L590.0 821.8M546.4 777.8L558.3 784.9"/>
<path class="t" stroke="#00aaff" d="M546.4 781.4L566.6 771.9L572.5 760.0M545.2 776.6L563.0 769.5"/>
<path class="t" stroke="#00a014" d="M548.8 765.9L555.9 777.8L567.8 805.1L590.0 809.9M513.1 795.6L553.5 774.3L578.5 760.0M491.8 773.1L548.8 760.0M578.5 800.4L590.0 798.0M474.7 700.5L446.2 708.0L418.9 738.5L439.1 766.6"/>
<path class="t" stroke="#00aaff" d="M474.7 700.5L481.3 695.7L511.0 669.6L524.0 660.1L528.8 650.0"/>
<path class="t" stroke="#00a014" d="M484.8 676.4L480.1 696.9L474.7 721.3"/>
<path class="t" stroke="#00aaff" d="M484.8 676.4L509.8 670.4L540.1 661.3L570.0 654.8"/>
<path class="t" stroke="#00a014" d="M480.1 696.9L519.3 696.9"/>
<path class="t" stroke="#00aaff" d="M519.3 696.9L528.8 692.2L570.0 689.2"/>
<path class="t" stroke="#00a014" d="M465.2 711.5L468.2 732.0L476.5 756.9"/>
<path class="t" stroke="#00aaff" d="M465.2 711.5L476.5 697.5L507.4 671.4L521.7 650.0"/>
<path class="t" stroke="#00a014" d="M445.6 734.9L497.3 719.5L502.7 720.1M457.5 727.0L465.8 726.0L476.5 735.5L483.6 740.3M457.5 727.0L468.2 745.0L476.5 768.8L481.3 778.0"/>
<path class="t" stroke="#00aaff" d="M453.9 746.8L470.0 732.0L486.0 726.0L503.8 715.9L528.8 705.8L570.0 697.5M453.9 746.8L469.4 764.6L476.5 778.0M470.0 742.7L470.6 761.7M484.8 726.6L486.0 740.3L496.7 739.1L502.7 721.3"/>
<path class="t" stroke="#00a014" d="M477.1 738.5L477.7 761.7M480.1 751.0L488.4 768.8M480.1 751.0L511.0 727.2L528.8 716.5M519.3 696.9L520.5 711.8L524.0 728.4L533.5 735.5"/>
<path class="t" stroke="#00aaff" d="M520.5 692.8L520.5 709.4M666.5 714.9L682.0 709.6L711.7 699.5L727.7 695.7L739.6 708.4"/>
<path class="t" stroke="#00a014" d="M739.6 708.4L704.5 731.3L677.2 725.6L664.7 723.9"/>
<path class="t" stroke="#00aaff" d="M664.7 723.9L661.8 718.5M712.2 695.9L720.6 712.0"/>
<path class="t" stroke="#00a014" d="M720.6 712.0L690.3 723.3L654.6 731.0"/>
<path class="t" stroke="#00aaff" d="M654.6 731.0L662.4 731.0M623.8 735.1L655.2 738.7L632.1 754.1"/>
<path class="t" stroke="#00a014" d="M632.1 754.1L611.9 781.5L600.0 793.3"/>
<path class="t" stroke="#00aaff" d="M645.1 726.8L639.2 733.9L624.9 766.0L610.7 793.3L600.0 808.8"/>
<path class="t" stroke="#00a014" d="M600.0 786.2L611.9 793.3L623.8 792.2L632.1 802.2L647.5 806.4L660.0 808.9M600.0 804.0L639.2 804.6M620.0 625.2L639.0 618.8L677.8 615.0M620.0 631.8L633.7 627.9L677.8 619.0"/>
<path class="t" stroke="#00aaff" d="M677.8 615.0L693.3 638.6"/>
<path class="t" stroke="#00a014" d="M693.3 638.6L689.3 658.4"/>
<path class="t" stroke="#00aaff" d="M689.3 658.4L675.8 663.0L669.9 657.6L662.8 657.0M677.8 619.0L678.4 643.4L664.2 656.8L655.6 663.0"/>
<path class="t" stroke="#00a014" d="M658.0 642.2L669.9 652.3L679.4 659.4L689.3 665.9"/>
<path class="t" stroke="#00aaff" d="M689.3 665.9L712.9 669.8L684.7 669.5L677.0 671.3M712.9 669.8L675.8 665.1M685.9 672.2L693.6 673.1L690.1 682.0L685.9 672.2"/>
<path class="t" stroke="#00a014" d="M652.1 682.2L683.8 670.7"/>
<path class="t" stroke="#00aaff" d="M683.8 670.7L685.9 672.2M671.1 709.9L686.5 706.3L715.0 698.6L727.5 695.6L739.6 708.3"/>
<path class="t" stroke="#00a014" d="M739.6 708.3L708.5 728.0"/>
<path class="t" stroke="#00aaff" d="M655.6 715.2L681.8 710.5L697.2 701.6L712.1 696.5L720.4 711.9"/>
<path class="t" stroke="#00a014" d="M720.4 711.9L691.3 722.9L678.2 725.3L665.7 723.5"/>
<path class="t" stroke="#00aaff" d="M703.1 682.0L712.1 696.5"/>
<path class="t" stroke="#f0a000" d="M535.3 211.3L499.7 237.2"/>
<path class="t" stroke="#ff0000" d="M499.7 237.2L495.5 248.5"/>
<path class="t" stroke="#f0a000" d="M495.5 248.5L481.3 256.8"/>
<path class="t" stroke="#ff0000" d="M481.3 256.8L465.8 276.4"/>
<path class="t" stroke="#f0a000" d="M454.5 294.8L451.0 323.0M535.3 211.3L507.4 237.8"/>
<path class="t" stroke="#ff0000" d="M507.4 237.8L469.4 273.4L454.5 293.6L435.5 303.1"/>
<path class="t" stroke="#f0a000" d="M535.3 211.3L524.0 241.9"/>
<path class="t" stroke="#ff0000" d="M524.0 241.9L516.9 247.3L486.0 292.4L476.5 323.0"/>
<path class="t" stroke="#f0a000" d="M535.3 211.3L519.9 237.8"/>
<path class="t" stroke="#ff0000" d="M519.9 237.8L493.1 266.3"/>
<path class="t" stroke="#730000" d="M474.1 271.0L457.5 299.5L455.1 313.8M476.5 278.1L461.1 296.0L456.9 309.0M471.8 278.1L458.7 301.9"/>
<path class="t" stroke="#00aaff" d="M465.8 276.4L454.5 294.8M435.5 303.1L422.8 337.9L422.8 373.0L434.4 422.8L449.2 453.2L468.7 496.5L491.3 536.9L502.0 558.0"/>
<path class="t" stroke="#ff0000" d="M451.1 315.9L445.7 318.9L447.5 325.4L430.6 349.8L439.2 383.6L446.3 438.0"/>
<path class="t" stroke="#730000" d="M455.2 317.1L438.6 356.9"/>
<path class="t" stroke="#f0a000" d="M438.6 356.9L438.6 371.8"/>
<path class="t" stroke="#f0d200" d="M438.6 371.8L447.5 386.0"/>
<path class="t" stroke="#ff0000" d="M471.3 387.2L489.7 414.5L496.2 438.0"/>
<path class="t" stroke="#f0a000" d="M471.3 357.5L471.3 387.2"/>
<path class="t" stroke="#ff0000" d="M444.9 430.0L449.7 460.9"/>
<path class="t" stroke="#f0a000" d="M449.7 460.9L469.3 498.9"/>
<path class="t" stroke="#f0d200" d="M469.3 498.9L475.8 536.9L480.6 558.0"/>
<path class="t" stroke="#ff0000" d="M493.6 430.0L500.8 453.8L507.9 479.9"/>
<path class="t" stroke="#f0d200" d="M502.0 457.3L512.1 472.2L518.6 494.1L526.9 513.1L542.9 538.1"/>
<path class="t" stroke="#00aaff" d="M542.9 538.1L550.7 554.7M530.5 522.7L542.9 538.1M516.2 526.8L534.0 544.0L543.5 554.7M477.0 503.6L490.1 527.4L507.9 558.0M499.6 541.7L507.9 558.0"/>
<path d="M535.4 211.3L510.0 243.0L482.2 277.2L465.1 306.2L453.7 350.3L453.7 390.4L466.1 432.0L480.2 466.0L523.5 562.6L553.4 613.6L609.6 691.3L639.6 697.0L614.9 687.2L609.6 690.8L581.0 706.0L543.3 727.3L522.7 750.4L526.3 781.0L546.3 808.1L574.4 828.1L623.5 846.2L671.4 858.6" fill="none" stroke="#000" stroke-width="4.1" stroke-linejoin="round" stroke-linecap="butt"/><rect x="448.8" y="344.7" width="11.2" height="11.6" rx="1" fill="#000"/><rect x="518.4" y="557.0" width="11.2" height="11.6" rx="1" fill="#000"/><rect x="634.4" y="691.7" width="11.2" height="11.6" rx="1" fill="#000"/><rect x="538.2" y="721.7" width="11.2" height="11.6" rx="1" fill="#000"/><rect x="569.3" y="822.5" width="11.2" height="11.6" rx="1" fill="#000"/><path d="M528.2 204.1L542.6 218.5M528.2 218.5L542.6 204.1" stroke="#000" stroke-width="2.1" fill="none"/>
<text x="468.2" y="350.1" font-size="20.83">+24h</text><text x="537.0" y="561.4" font-size="20.83">+48h</text><text x="652.6" y="696.7" font-size="20.83">+72h</text><text x="557.1" y="727.5" font-size="20.83">+96h</text><text x="587.3" y="827.7" font-size="20.83">+120h</text>
</g>
<rect x="50.5" y="57.5" width="1125.0" height="990.0" fill="none" stroke="#000" stroke-width="1.1"/>
<text x="91.6" y="1065" font-size="13.5" text-anchor="middle">55°E</text>
<text x="284.3" y="1065" font-size="13.5" text-anchor="middle">60°E</text>
<text x="476.9" y="1065" font-size="13.5" text-anchor="middle">65°E</text>
<text x="669.6" y="1065" font-size="13.5" text-anchor="middle">70°E</text>
<text x="862.3" y="1065" font-size="13.5" text-anchor="middle">75°E</text>
<text x="1055.0" y="1065" font-size="13.5" text-anchor="middle">80°E</text>
<text x="43.4" y="253.9" font-size="13.5" text-anchor="end">20°S</text>
<text x="43.4" y="446.8" font-size="13.5" text-anchor="end">25°S</text>
<text x="43.4" y="639.4" font-size="13.5" text-anchor="end">30°S</text>
<text x="43.4" y="832.0" font-size="13.5" text-anchor="end">35°S</text>
<text x="43.4" y="1024.9" font-size="13.5" text-anchor="end">40°S</text>
<text x="1004.2" y="1028" font-size="16.57">www.smca.fun</text>
<text class="m" x="1188" y="68.9" style="fill:#730000">Member1:113kt</text>
<text class="m" x="1188" y="84.3" style="fill:#ff0000">Member2:112kt</text>
<text class="m" x="1188" y="99.7" style="fill:#730000">Member3:115kt</text>
<text class="m" x="1188" y="115.1" style="fill:#730000">Member4:122kt</text>
<text class="m" x="1188" y="130.5" style="fill:#ff0000">Member5:110kt</text>
<text class="m" x="1188" y="145.9" style="fill:#ff0000">Member6:103kt</text>
<text class="m" x="1188" y="161.2" style="fill:#ff0000">Member7:111kt</text>
<text class="m" x="1188" y="176.6" style="fill:#730000">Member8:120kt</text>
<text class="m" x="1188" y="192.0" style="fill:#730000">Member9:113kt</text>
<text class="m" x="1188" y="207.4" style="fill:#ff0000">Member10:104kt</text>
<text class="m" x="1188" y="222.8" style="fill:#ff0000">Member11:110kt</text>
<text class="m" x="1188" y="238.2" style="fill:#ff0000">Member12:104kt</text>
<text class="m" x="1188" y="253.6" style="fill:#ff0000">Member13:109kt</text>
<text class="m" x="1188" y="269.0" style="fill:#730000">Member14:118kt</text>
<text class="m" x="1188" y="284.4" style="fill:#ff0000">Member15:111kt</text>
<text class="m" x="1188" y="299.8" style="fill:#730000">Member16:115kt</text>
<text class="m" x="1188" y="315.1" style="fill:#ff0000">Member17:100kt</text>
<text class="m" x="1188" y="330.5" style="fill:#730000">Member18:115kt</text>
<text class="m" x="1188" y="345.9" style="fill:#730000">Member19:113kt</text>
<text class="m" x="1188" y="361.3" style="fill:#730000">Member20:117kt</text>
<text class="m" x="1188" y="376.7" style="fill:#730000">Member21:113kt</text>
<text class="m" x="1188" y="392.1" style="fill:#ff0000">Member22:104kt</text>
<text class="m" x="1188" y="407.5" style="fill:#730000">Member23:116kt</text>
<text class="m" x="1188" y="422.9" style="fill:#730000">Member24:117kt</text>
<text class="m" x="1188" y="438.3" style="fill:#ff0000">Member25:111kt</text>
<text class="m" x="1188" y="453.6" style="fill:#ff0000">Member26:110kt</text>
<text class="m" x="1188" y="469.0" style="fill:#ff0000">Member27:108kt</text>
<text class="m" x="1188" y="484.4" style="fill:#730000">Member28:116kt</text>
<text class="m" x="1188" y="499.8" style="fill:#ff0000">Member29:111kt</text>
<text class="m" x="1188" y="515.2" style="fill:#730000">Member30:118kt</text>
<text class="m" x="1188" y="530.6" style="fill:#ff0000">Member31:112kt</text>
<text class="m" x="1188" y="546.0" style="fill:#730000">Member32:119kt</text>
<text class="m" x="1188" y="561.4" style="fill:#ff0000">Member33:105kt</text>
<text class="m" x="1188" y="576.8" style="fill:#ff0000">Member34:101kt</text>
<text class="m" x="1188" y="592.2" style="fill:#ff0000">Member35:107kt</text>
<text class="m" x="1188" y="607.5" style="fill:#730000">Member36:115kt</text>
<text class="m" x="1188" y="622.9" style="fill:#730000">Member37:115kt</text>
<text class="m" x="1188" y="638.3" style="fill:#ff0000">Member38:111kt</text>
<text class="m" x="1188" y="653.7" style="fill:#ff0000">Member39:110kt</text>
<text class="m" x="1188" y="669.1" style="fill:#ff0000">Member40:109kt</text>
<text class="m" x="1188" y="684.5" style="fill:#ff0000">Member41:105kt</text>
<text class="m" x="1188" y="699.9" style="fill:#ff0000">Member42:105kt</text>
<text class="m" x="1188" y="715.3" style="fill:#ff0000">Member43:106kt</text>
<text class="m" x="1188" y="730.7" style="fill:#730000">Member44:123kt</text>
<text class="m" x="1188" y="746.1" style="fill:#ff0000">Member45:107kt</text>
<text class="m" x="1188" y="761.5" style="fill:#ff0000">Member46:107kt</text>
<text class="m" x="1188" y="776.8" style="fill:#ff0000">Member47:109kt</text>
<text class="m" x="1188" y="792.2" style="fill:#730000">Member48:126kt</text>
<text class="m" x="1188" y="807.6" style="fill:#ff0000">Member49:97kt</text>
<text class="m" x="1188" y="823.0" style="fill:#ff0000">Member50:109kt</text>
<text class="m" x="1188" y="838.4" style="fill:#ff0000;font-size:14.6px">Ens Mean:107kt</text>
<rect x="1188.5" y="854.5" width="150" height="193" rx="3" ry="3" fill="#fff" stroke="#cccccc" stroke-width="1.1"/>
<rect x="1194" y="861.0" width="27" height="10" fill="#f064f0"/>
<text x="1232" y="871" font-size="13.89">Category 5</text>
<rect x="1194" y="882.0" width="27" height="10" fill="#730000"/>
<text x="1232" y="892" font-size="13.89">Category 4</text>
<rect x="1194" y="903.0" width="27" height="10" fill="#ff0000"/>
<text x="1232" y="913" font-size="13.89">Category 3</text>
<rect x="1194" y="924.0" width="27" height="10" fill="#f0a000"/>
<text x="1232" y="934" font-size="13.89">Category 2</text>
<rect x="1194" y="945.0" width="27" height="10" fill="#f0d200"/>
<text x="1232" y="955" font-size="13.89">Category 1</text>
<rect x="1194" y="966.0" width="27" height="10" fill="#00aaff"/>
<text x="1232" y="976" font-size="13.89">Tropical Storm</text>
<rect x="1194" y="987.0" width="27" height="10" fill="#00a014"/>
<text x="1232" y="997" font-size="13.89">Depression</text>
<rect x="1194" y="1008.0" width="27" height="10" fill="#00f028"/>
<text x="1232" y="1018" font-size="13.89">Disturbance</text>
<rect x="1194" y="1029.0" width="27" height="8.8" fill="#000000"/>
<text x="1232" y="1039" font-size="13.89">Ens Mean</text>
</svg></body></html>
